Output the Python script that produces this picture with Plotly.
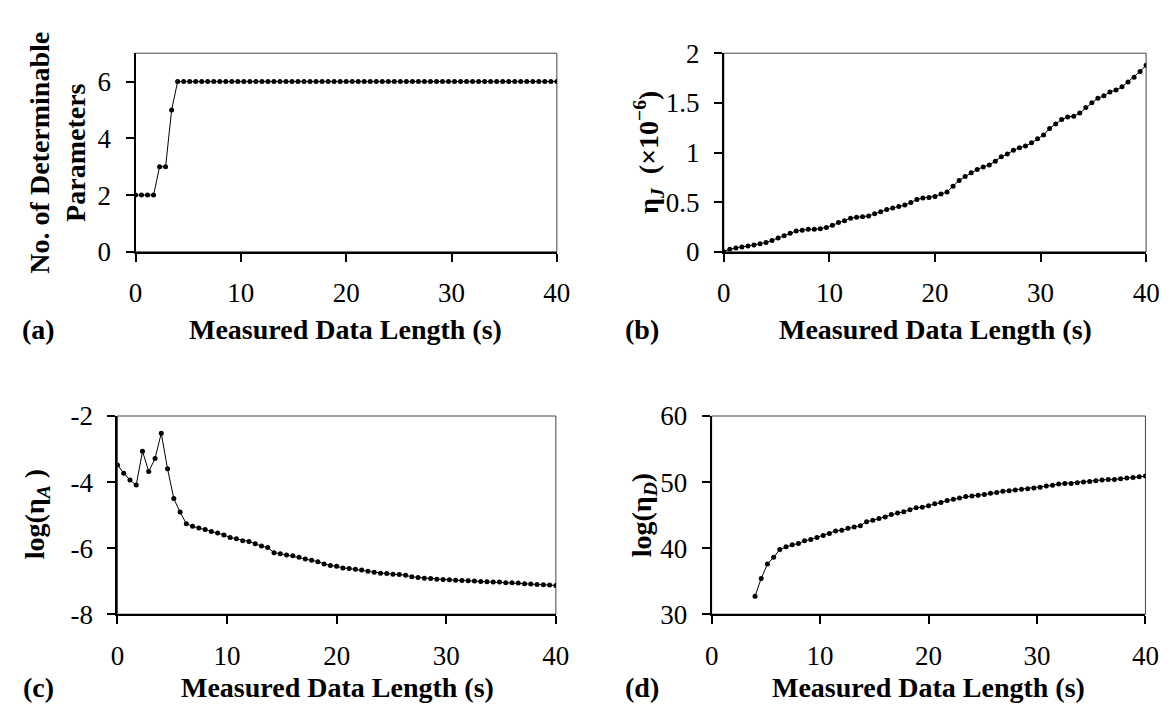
import plotly.graph_objects as go

W, H = 1176, 724

# ---------------- data ----------------
time_s = [0, 0.571, 1.143, 1.714, 2.286, 2.857, 3.429, 4, 4.571, 5.143,
          5.714, 6.286, 6.857, 7.429, 8, 8.571, 9.143, 9.714, 10.286, 10.857,
          11.429, 12, 12.571, 13.143, 13.714, 14.286, 14.857, 15.429, 16, 16.571,
          17.143, 17.714, 18.286, 18.857, 19.429, 20, 20.571, 21.143, 21.714, 22.286,
          22.857, 23.429, 24, 24.571, 25.143, 25.714, 26.286, 26.857, 27.429, 28,
          28.571, 29.143, 29.714, 30.286, 30.857, 31.429, 32, 32.571, 33.143, 33.714,
          34.286, 34.857, 35.429, 36, 36.571, 37.143, 37.714, 38.286, 38.857, 39.429, 40]

n_params = [2, 2, 2, 2, 3, 3, 5] + [6] * 64

eta_J = [0.0, 0.026, 0.039, 0.048, 0.058, 0.068, 0.081, 0.094, 0.113, 0.139,
         0.161, 0.187, 0.210, 0.216, 0.226, 0.226, 0.232, 0.245, 0.268, 0.294,
         0.313, 0.339, 0.348, 0.352, 0.361, 0.384, 0.403, 0.426, 0.442, 0.455,
         0.471, 0.497, 0.526, 0.542, 0.548, 0.558, 0.581, 0.603, 0.661, 0.719,
         0.758, 0.797, 0.829, 0.855, 0.874, 0.913, 0.958, 0.984, 1.022, 1.048,
         1.065, 1.097, 1.139, 1.177, 1.242, 1.287, 1.332, 1.358, 1.365, 1.397,
         1.452, 1.500, 1.545, 1.571, 1.610, 1.629, 1.661, 1.710, 1.758, 1.816, 1.878]

log_eta_A = [-3.48, -3.73, -3.94, -4.09, -3.07, -3.68, -3.29, -2.52, -3.60, -4.50,
             -4.91, -5.26, -5.34, -5.39, -5.44, -5.50, -5.54, -5.60, -5.68, -5.72,
             -5.78, -5.80, -5.87, -5.94, -5.98, -6.14, -6.17, -6.21, -6.23, -6.28,
             -6.33, -6.37, -6.41, -6.48, -6.53, -6.55, -6.60, -6.62, -6.64, -6.66,
             -6.70, -6.73, -6.76, -6.77, -6.79, -6.80, -6.82, -6.87, -6.89, -6.91,
             -6.92, -6.94, -6.95, -6.96, -6.97, -6.98, -6.99, -7.00, -7.01, -7.02,
             -7.03, -7.03, -7.05, -7.05, -7.06, -7.08, -7.09, -7.10, -7.11, -7.12, -7.13]

time_D = time_s[7:]
log_eta_D = [32.7, 35.4, 37.6, 38.6, 39.8, 40.2, 40.5, 40.7, 41.1, 41.3,
             41.6, 41.9, 42.2, 42.6, 42.7, 43.0, 43.2, 43.4, 44.0, 44.2,
             44.5, 44.7, 45.1, 45.3, 45.5, 45.8, 46.1, 46.2, 46.4, 46.7,
             46.9, 47.2, 47.4, 47.6, 47.8, 47.9, 48.0, 48.1, 48.3, 48.4,
             48.6, 48.7, 48.8, 48.9, 49.0, 49.1, 49.2, 49.4, 49.5, 49.7,
             49.8, 49.8, 49.9, 50.0, 50.1, 50.2, 50.3, 50.4, 50.4, 50.5,
             50.6, 50.7, 50.8, 50.9]

x_ticks = [0, 10, 20, 30, 40]

FONT = "Liberation Serif"
TICK_SIZE = 27
TITLE_SIZE = 28


def px(x):
    return x / W


def py(y):
    return 1 - y / H


fig = go.Figure()
line = dict(color="black", width=1)
marker = dict(color="black", size=5, symbol="circle")

fig.add_trace(go.Scatter(x=time_s, y=n_params, mode="lines+markers", line=line,
                         marker=marker, xaxis="x", yaxis="y", showlegend=False))
fig.add_trace(go.Scatter(x=time_s, y=eta_J, mode="lines+markers", line=line,
                         marker=marker, xaxis="x2", yaxis="y2", showlegend=False))
fig.add_trace(go.Scatter(x=time_s, y=log_eta_A, mode="lines+markers", line=line,
                         marker=marker, xaxis="x3", yaxis="y3", showlegend=False))
fig.add_trace(go.Scatter(x=time_D, y=log_eta_D, mode="lines+markers", line=line,
                         marker=marker, xaxis="x4", yaxis="y4", showlegend=False))

row1 = [py(238.7), py(31.5)]
row2 = [py(616.7), py(410)]
xdoms = [[px(122.7), px(551.7)], [px(721.7), px(1151.7)],
         [px(104.3), px(550.7)], [px(709.3), px(1151)]]
ydoms = [row1, row1, row2, row2]
yranges = [[0, 7], [0, 2], [-8, -2], [30, 60]]
ytickvals = [[0, 2, 4, 6], [0, 0.5, 1, 1.5, 2], [-8, -6, -4, -2], [30, 40, 50, 60]]
yticktext = [["0", "2", "4", "6"], ["0", "0.5", "1", "1.5", "2"],
             ["-8", "-6", "-4", "-2"], ["30", "40", "50", "60"]]

common = dict(showgrid=False, zeroline=False, showline=True, linecolor="black",
              linewidth=2, ticks="outside", ticklen=8, tickwidth=1.5,
              tickcolor="black", tickfont=dict(family=FONT, size=TICK_SIZE, color="black"),
              mirror=False)

layout = dict(width=W, height=H, margin=dict(l=0, r=0, t=0, b=0),
              paper_bgcolor="white", plot_bgcolor="white", showlegend=False)
for k in range(4):
    sx = "" if k == 0 else str(k + 1)
    layout["xaxis" + sx] = dict(common, domain=xdoms[k], range=[0, 40],
                                tickvals=x_ticks, anchor="y" + sx,
                                ticklabelstandoff=8)
    layout["yaxis" + sx] = dict(common, domain=ydoms[k], range=yranges[k],
                                tickvals=ytickvals[k], ticktext=yticktext[k],
                                anchor="x" + sx, ticklabelstandoff=9)
fig.update_layout(**layout)

# box outlines (thin top/right borders)
for k in range(4):
    sx = "" if k == 0 else str(k + 1)
    fig.add_shape(type="rect", xref=("x" + sx + " domain"), yref=("y" + sx + " domain"),
                  x0=0, x1=1, y0=0, y1=1, line=dict(color="#444", width=1), layer="below")

tfont = dict(family=FONT, size=TITLE_SIZE, color="black")


def ann(text, x, y, angle=0):
    fig.add_annotation(text=text, x=px(x), y=py(y), xref="paper", yref="paper",
                       showarrow=False, font=tfont, textangle=angle,
                       xanchor="center", yanchor="middle")


# x titles and panel labels
ann("<b>Measured Data Length (s)</b>", 337, 320)
ann("<b>Measured Data Length (s)</b>", 937, 320)
ann("<b>Measured Data Length (s)</b>", 328, 693)
ann("<b>Measured Data Length (s)</b>", 930, 693)
ann("<b>(a)</b>", 24, 320)
ann("<b>(b)</b>", 638, 320)
ann("<b>(c)</b>", 24, 693)
ann("<b>(d)</b>", 638, 693)

# y titles
ann("<b>No. of Determinable<br>Parameters</b>", 43, 135, -90)
ann("<b>η<sub><i>J</i></sub>  (×10<sup>−6</sup>)</b>", 645, 135, -90)
ann("<b>log(η<sub><i>A</i></sub> )</b>", 22, 513, -90)
ann("<b>log(η<sub><i>D</i></sub>)</b>", 640, 513, -90)

fig.write_html("out.html")
